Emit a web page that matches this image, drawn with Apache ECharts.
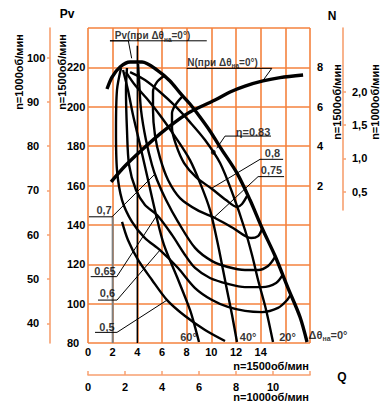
<!DOCTYPE html>
<html><head><meta charset="utf-8">
<script src="https://cdn.jsdelivr.net/npm/echarts@6/dist/echarts.min.js"></script>
<style>html,body{margin:0;padding:0;background:#fff}#c{width:382px;height:408px}</style>
</head><body><div id="c"></div>
<script>
// ---- tick labels ----
const qTickLabels1500 = [0, 2, 4, 6, 8, 10, 12, 14];
const qTickLabels1000 = [0, 2, 4, 6, 8, 10];
const pvTickLabels1500 = [80, 100, 120, 140, 160, 180, 200, 220];
const pvTickLabels1000 = [40, 50, 60, 70, 80, 90, 100];
const nTickLabels1500 = [2, 4, 6, 8];
const nTickLabels1000 = ['0,5', '1,0', '1,5', '2,0'];

// ---- Pv curves (Q at n=1500, Pv) for guide-vane angles ----
const pv0 = [[1.54,209.0],[1.95,215.1],[2.60,220.2],[3.41,222.7],[4.38,222.7],[5.60,218.6],[6.65,213.1],[7.46,207.0],[8.27,201.4],[9.08,194.8],[9.89,187.7],[10.71,179.5],[12.08,166.3],[13.14,152.6],[14.11,138.4],[15.17,124.2],[16.22,107.9],[17.19,93.2],[17.76,80.5]];
const pv20 = [[3.41,217.6],[4.62,213.6],[5.84,207.5],[7.06,200.4],[8.27,192.2],[9.49,183.1],[10.71,171.4],[11.76,155.2],[12.73,137.4],[13.30,124.7],[13.79,112.0],[14.44,96.8],[15.00,80.5]];
const pv40 = [[3.08,217.6],[3.81,211.0],[4.87,203.4],[6.00,194.3],[7.14,184.1],[8.27,172.9],[9.16,160.2],[9.89,147.6],[10.46,132.3],[10.95,117.1],[11.27,106.9],[11.68,94.2],[12.08,80.5]];
const pv60 = [[2.84,218.7],[3.24,208.5],[3.65,195.8],[4.22,180.6],[4.87,162.8],[5.52,145.0],[6.16,129.8],[7.22,113.5],[8.27,96.8],[8.68,88.1],[9.00,80.5]];

// ---- efficiency contours ----
const eta50 = [[2.76,141.5],[3.24,132.3],[4.06,122.2],[5.19,112.0],[6.41,101.8],[7.87,93.7],[9.49,86.6],[11.11,81.0]];
const eta60 = [[2.68,219.7],[2.35,208.5],[2.27,188.2],[2.35,167.9],[2.76,152.6],[3.57,141.5],[4.62,133.3],[5.84,127.2],[7.30,118.1],[8.68,107.9],[10.06,101.8],[11.35,98.3],[12.73,96.3],[14.11,95.7],[15.41,97.8],[16.14,101.8],[16.46,104.9]];
const eta65 = [[3.16,219.7],[3.08,208.5],[3.16,188.2],[3.33,170.4],[3.89,157.7],[4.62,150.1],[5.60,145.0],[6.81,134.9],[7.87,124.7],[8.68,118.1],[9.89,113.0],[11.35,110.0],[12.73,108.4],[14.11,108.4],[15.25,110.5],[15.82,115.0]];
const eta70 = [[4.06,221.7],[4.14,213.6],[4.30,198.3],[4.70,183.1],[5.19,170.4],[5.60,162.8],[6.33,152.6],[7.30,141.5],[8.68,128.3],[10.06,121.6],[11.35,118.6],[12.73,117.1],[13.79,117.1],[14.60,119.1],[15.17,123.7]];
const eta75 = [[6.16,215.6],[5.60,212.6],[5.27,207.5],[5.27,198.3],[5.43,185.6],[5.84,174.0],[6.49,162.8],[7.46,153.6],[8.84,147.6],[10.30,143.5],[11.76,138.4],[13.22,133.3],[13.79,134.3],[14.11,137.9]];
const eta80 = [[7.70,205.5],[7.14,201.4],[6.81,196.8],[6.81,189.2],[7.14,180.6],[7.79,171.4],[8.76,164.3],[10.06,158.2],[11.19,152.6],[12.08,149.1],[12.49,150.6],[12.90,154.7]];
const eta83 = [[10.16,176.9]];

// ---- power curve (Q at n=1500, N at n=1500) ----
const nCurve = [[1.87,2.18],[3.00,2.99],[4.36,3.80],[5.84,4.62],[7.06,5.22],[8.27,5.73],[10.30,6.34],[11.52,6.75],[12.73,7.05],[14.19,7.31],[15.57,7.48],[17.44,7.61]];

// ---- reference lines and label leaders (Q, Pv) ----
const limitLine = [[4,80],[4,231]];
const labelStem = [[2,80],[2,144.1]];
const leaderPv = [[9.63,233.5],[1.78,233.5],[3.27,233.5],[3.54,224.6]];
const leaderN = [[8.0,219.5],[14.90,219.5],[14.22,213.6]];
const leader83 = [[14.84,185.1],[11.11,185.1],[10.44,178.9]];
const leader80 = [[15.82,173.3],[13.95,173.3],[10.03,158.6]];
const leader75 = [[15.90,164.5],[13.79,164.5],[10.30,144.2]];
const leader70 = [[0.08,144.1],[1.95,144.1],[5.43,165.8]];
const leader65 = [[0.22,113.7],[2.33,113.7],[5.60,145.0]];
const leader60 = [[0.81,101.8],[2.35,101.8],[5.84,127.2]];
const leader50 = [[0.57,85.4],[2.35,85.4],[6.41,101.8]];

// ---- annotation texts (text, Q, Pv) ----
const curveTexts = [
  ['Pv(при Δθ{s|на}=0°)', 5.23, 236.0],
  ['N(при Δθ{s|на}=0°)', 10.91, 222.7]
];
const etaTexts = [
  ['η=0.83', 13.38, 187.4], ['0,8', 14.96, 176.5], ['0,75', 14.88, 167.9],
  ['0,7', 1.30, 147.6], ['0,65', 1.38, 116.6], ['0,6', 1.58, 105.4], ['0,5', 1.54, 88.3]
];
const angleTexts = [
  ['60°', 8.15, 83.0], ['40°', 12.98, 83.0], ['20°', 16.18, 83.0], ['Δθ{s|на}=0°', 19.46, 84.1]
];

const FONT = '"Liberation Sans", Arial, sans-serif';
const GRID = '#F4823E';
const OUTER = '#F7A070';
const LBL = {color:'#000', fontWeight:'bold', fontSize:11, fontFamily:FONT};

function curve(data, width, yIdx) {
  return {type:'line', data, xAxisIndex:0, yAxisIndex:yIdx||0, symbol:'none', showSymbol:false,
    smooth:0.3, silent:true, lineStyle:{color:'#000', width}, z:3};
}
function leader(data, color, width) {
  return {type:'line', data, xAxisIndex:0, yAxisIndex:0, symbol:'none', showSymbol:false,
    smooth:false, silent:true, lineStyle:{color:color||'#000', width:width||1}, z:4};
}
function texts(arr, size, sub) {
  return {type:'scatter', xAxisIndex:0, yAxisIndex:0, symbolSize:1, clip:false, silent:true, z:6,
    itemStyle:{color:'rgba(0,0,0,0)'},
    data: arr.map(t => ({name:t[0], value:[t[1], t[2]]})),
    label:{show:true, position:'inside', formatter:p => p.name, color:'#000', fontWeight:'bold',
      fontSize:size, fontFamily:FONT, lineHeight:size+4,
      rich:{s:{fontSize:sub, fontWeight:'bold', fontFamily:FONT, color:'#000', lineHeight:sub+1, verticalAlign:'bottom'}}}};
}
function gtext(text, x, y, rot, align, size) {
  return {type:'text', x, y, rotation:rot||0, silent:true,
    style:{text, fill:'#000', font:'bold '+(size||11)+'px '+FONT, align:align||'center', verticalAlign:'middle'}};
}
function hiddenAxis(gi) { return {gridIndex:gi, type:'value', show:false, min:0, max:1}; }
const lineOnly = {show:true, onZero:false, lineStyle:{color:OUTER, width:1.6}};

const chart = echarts.init(document.getElementById('c'), null, {renderer:'svg', width:382, height:408});
chart.setOption({
  animation:false,
  backgroundColor:'#fff',
  textStyle:{fontFamily:FONT},
  grid:[
    {left:88, top:28, width:222, height:315, outerBoundsMode:'none'},     // 0 main plot
    {left:50, top:28, width:1, height:315, outerBoundsMode:'none'},      // 1 left outer axis line
    {left:50, top:57.53, width:1, height:265.78, outerBoundsMode:'none'},// 2 left outer ticks (n=1000)
    {left:342, top:28, width:1, height:182, outerBoundsMode:'none'},     // 3 right outer axis line
    {left:342, top:91.98, width:1, height:99.67, outerBoundsMode:'none'},// 4 right outer ticks (n=1000)
    {left:88, top:344, width:222, height:31, outerBoundsMode:'none'}     // 5 bottom Q axis (n=1000)
  ],
  xAxis:[
    {gridIndex:0, type:'value', min:0, max:18, interval:2, position:'bottom',
      axisLine:{show:false, onZero:false}, axisTick:{show:false},
      axisLabel:Object.assign({margin:3, formatter:v => qTickLabels1500.includes(v) ? String(v) : ''}, LBL),
      splitLine:{show:true, lineStyle:{color:GRID, width:1.6}}},
    hiddenAxis(1), hiddenAxis(2), hiddenAxis(3), hiddenAxis(4),
    {gridIndex:5, type:'value', min:0, max:12, interval:2, position:'bottom',
      axisLine:lineOnly,
      axisTick:{show:true, inside:true, length:4, lineStyle:{color:OUTER, width:1.5}},
      axisLabel:Object.assign({margin:6, formatter:v => qTickLabels1000.includes(v) ? String(v) : ''}, LBL),
      splitLine:{show:false}}
  ],
  yAxis:[
    {gridIndex:0, type:'value', min:80, max:240, interval:20, position:'left',
      axisLine:{show:false, onZero:false}, axisTick:{show:false},
      axisLabel:Object.assign({margin:21, align:'left', formatter:v => pvTickLabels1500.includes(v) ? String(v) : ''}, LBL),
      splitLine:{show:true, lineStyle:{color:GRID, width:1.6}}},
    {gridIndex:0, type:'value', min:-6, max:10, interval:2, position:'right',
      axisLine:{show:false, onZero:false}, axisTick:{show:false}, splitLine:{show:false},
      axisLabel:Object.assign({margin:7, align:'left', formatter:v => nTickLabels1500.includes(v) ? String(v) : ''}, LBL)},
    {gridIndex:1, type:'value', min:0, max:1, position:'left',
      axisLine:lineOnly, axisTick:{show:false}, axisLabel:{show:false}, splitLine:{show:false}},
    {gridIndex:2, type:'value', min:40, max:100, interval:10, position:'left',
      axisLine:{show:false, onZero:false},
      axisTick:{show:true, length:3, lineStyle:{color:OUTER, width:1.5}},
      axisLabel:Object.assign({margin:23, align:'left', formatter:v => pvTickLabels1000.includes(v) ? String(v) : ''}, LBL),
      splitLine:{show:false}},
    {gridIndex:3, type:'value', min:0, max:1, position:'right',
      axisLine:lineOnly, axisTick:{show:false}, axisLabel:{show:false}, splitLine:{show:false}},
    {gridIndex:4, type:'value', min:0.5, max:2.0, interval:0.5, position:'right',
      axisLine:{show:false, onZero:false},
      axisTick:{show:true, length:3, lineStyle:{color:OUTER, width:1.5}},
      axisLabel:Object.assign({margin:9, align:'left', formatter:v => { const s = v.toFixed(1).replace('.', ','); return nTickLabels1000.includes(s) ? s : ''; }}, LBL),
      splitLine:{show:false}},
    {gridIndex:5, type:'value', show:false, min:0, max:1}
  ],
  series:[
    leader(labelStem, '#808080', 2),
    curve(pv0, 3.4),
    curve(pv20, 2.4),
    curve(pv40, 2.4),
    curve(pv60, 2.4),
    curve(eta50, 2.4),
    curve(eta60, 2.4),
    curve(eta65, 2.4),
    curve(eta70, 2.4),
    curve(eta75, 2.4),
    curve(eta80, 2.4),
    curve(nCurve, 3.4, 1),
    leader(limitLine, '#000', 1.5),
    leader(leaderPv), leader(leaderN), leader(leader83), leader(leader80), leader(leader75),
    leader(leader70), leader(leader65), leader(leader60), leader(leader50),
    {type:'scatter', xAxisIndex:0, yAxisIndex:0, data:eta83, symbolSize:5, silent:true, z:5, itemStyle:{color:'#000'}},
    texts(curveTexts, 10, 6.5),
    texts(etaTexts, 11, 7),
    texts(angleTexts, 11, 7)
  ],
  graphic:[
    gtext('Pv', 67, 14, 0, 'center', 12),
    gtext('n=1500об/мин', 62, 72, Math.PI/2),
    gtext('n=1000об/мин', 19, 72, Math.PI/2),
    gtext('N', 332, 16, 0, 'center', 12),
    gtext('n=1500об/мин', 337, 102, Math.PI/2),
    gtext('n=1000об/мин', 375, 102, Math.PI/2),
    gtext('Q', 342, 377, 0, 'center', 12),
    gtext('n=1500об/мин', 309, 365.5, 0, 'right'),
    gtext('n=1000об/мин', 309, 397, 0, 'right')
  ]
});
</script></body></html>
